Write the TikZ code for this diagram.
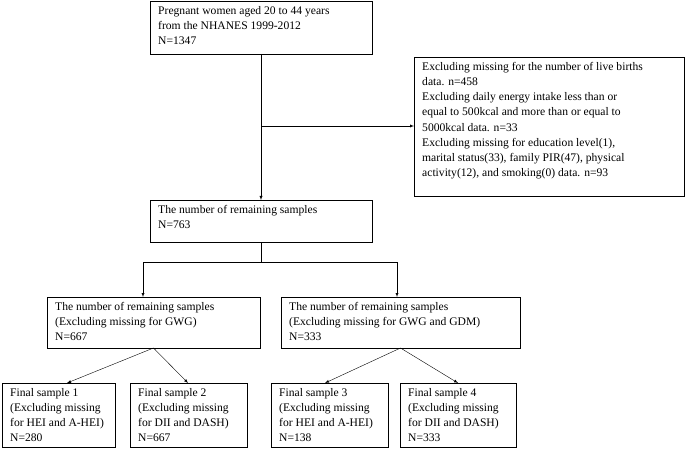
\documentclass[tikz,border=0pt]{standalone}
\usepackage{fontspec}
\setmainfont{Liberation Serif}
\begin{document}
\begin{tikzpicture}[x=1pt,y=-1pt,
 box/.style={anchor=north west,align=left,inner sep=0pt,font=\fontsize{11.6}{15.2}\selectfont},
 ar/.style={-latex}]
\useasboundingbox (0,0) rectangle (685,449);
\newcommand\bx[6]{\draw[thick] (#2,#3) rectangle (#4,#5); \node[box] (#1) at (#2+8,#3+5) {#6};
 \coordinate (#1n) at ({(#2+#4)/2},#3); \coordinate (#1s) at ({(#2+#4)/2},#5);}
\bx{a}{150}{1}{372}{54}{Pregnant women aged 20 to 44 years\\from the NHANES 1999-2012\\N=1347}
\bx{r}{414}{57}{684}{196}{Excluding missing for the number of live births\\data. n=458\\Excluding daily energy intake less than or\\equal to 500kcal and more than or equal to\\5000kcal data. n=33\\Excluding missing for education level(1),\\marital status(33), family PIR(47), physical\\activity(12), and smoking(0) data. n=93}
\bx{m}{150}{200}{372}{242}{The number of remaining samples\\N=763}
\bx{l}{47}{297}{260}{348}{The number of remaining samples\\(Excluding missing for GWG)\\N=667}
\bx{g}{281}{297}{520}{348}{The number of remaining samples\\(Excluding missing for GWG and GDM)\\N=333}
\bx{f1}{2}{383}{115}{447}{Final sample 1\\(Excluding missing\\for HEI and A-HEI)\\N=280}
\bx{f2}{130}{383}{247}{447}{Final sample 2\\(Excluding missing\\for DII and DASH)\\N=667}
\bx{f3}{271}{383}{388}{447}{Final sample 3\\(Excluding missing\\for HEI and A-HEI)\\N=138}
\bx{f4}{400}{383}{516}{447}{Final sample 4\\(Excluding missing\\for DII and DASH)\\N=333}
\draw[ar] (as) -- (mn);
\draw[ar] (as|-0,126) -- (414,126);
\draw (ms) -- (ms|-0,262);
\draw[ar] (143,262) -- (143,297);
\draw[ar] (143,262) -- (397,262) -- (397,297);
\draw[ar] (ls) -- (67,383);
\draw[ar] (ls) -- (188,383);
\draw[ar] (gs) -- (325,383);
\draw[ar] (gs) -- (458,383);
\end{tikzpicture}
\end{document}
